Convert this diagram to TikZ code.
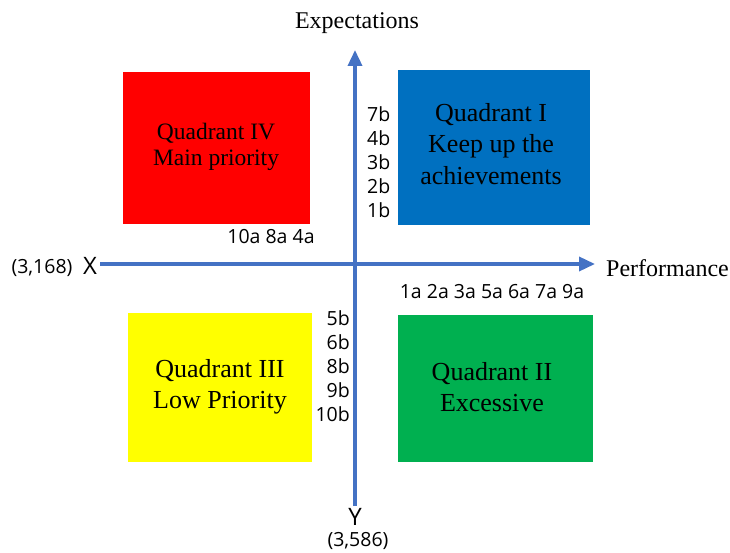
\documentclass[tikz,border=0pt]{standalone}
\usepackage{fontspec}
\setmainfont{Liberation Serif}
\newfontfamily\lblfont{Open Sans}
\usetikzlibrary{arrows.meta}
\definecolor{axisblue}{HTML}{4472C4}
\definecolor{qred}{HTML}{FF0000}
\definecolor{qblue}{HTML}{0070C0}
\definecolor{qyellow}{HTML}{FFFF00}
\definecolor{qgreen}{HTML}{00B050}
\tikzset{
  qtext/.style={align=center, font=\fontsize{26}{31.5}\selectfont},
  lbl/.style={font=\lblfont\fontsize{19.5}{24}\selectfont, inner sep=0pt},
  bigl/.style={font=\lblfont\fontsize{24}{24}\selectfont, inner sep=0pt},
  axis/.style={draw=axisblue, line width=3.5pt, -{Triangle[length=16pt,width=14pt]}},
  title/.style={font=\fontsize{24}{26}\selectfont, inner sep=0pt}
}
\begin{document}
\begin{tikzpicture}[x=1pt,y=-1pt]
\useasboundingbox (0,0) rectangle (730,553);
% quadrants
\fill[qred] (123,72) rectangle (310,224);
\fill[qblue] (398,70) rectangle (590,225);
\fill[qyellow] (128,313) rectangle (312,462);
\fill[qgreen] (398,315) rectangle (593,462);
\node[qtext, font=\fontsize{23.5}{26.5}\selectfont] (q4) at (216,147) {Quadrant IV\\Main priority};
\node[qtext] (q1) at (491,144) {Quadrant I\\Keep up the\\achievements};
\node[qtext] (q3) at (220,387) {Quadrant III\\Low Priority};
\node[qtext] (q2) at (492,387) {Quadrant II\\Excessive};
% axes
\coordinate (xs) at (100,264);
\coordinate (xe) at (595,264);
\coordinate (ys) at (355,506);
\coordinate (ye) at (355,50);
\draw[axis] (xs) -- (xe);
\draw[axis] (ys) -- (ye);
% labels
\node[title] (ex) at (357,23) {Expectations};
\node[title, anchor=west] (perf) at (606,268) {Performance};
\node[bigl] (X) at (90,266) {X};
\node[lbl] (xc) at (42,268) {(3,168)};
\node[bigl] (Y) at (355,517) {Y};
\node[lbl] (yc) at (358,541) {(3,586)};
\node[lbl] (a1) at (271,237) {10a 8a 4a};
\node[lbl] (a2) at (492,292) {1a 2a 3a 5a 6a 7a 9a};
\node[lbl, align=left, anchor=west] (b1) at (367,162) {7b\\4b\\3b\\2b\\1b};
\node[lbl, align=right, anchor=east] (b2) at (350,366) {5b\\6b\\8b\\9b\\10b};
\end{tikzpicture}
\end{document}
